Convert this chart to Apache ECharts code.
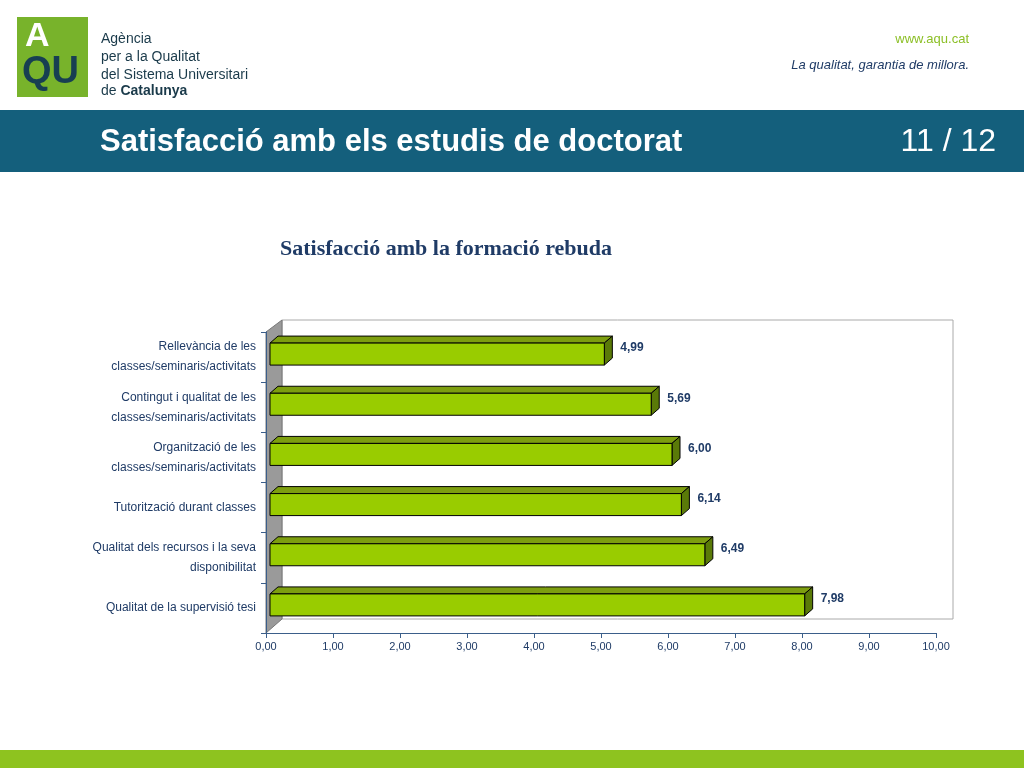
<!DOCTYPE html>
<html><head><meta charset="utf-8">
<script src="https://cdn.jsdelivr.net/npm/echarts@6/dist/echarts.min.js"></script>
<style>html,body{margin:0;padding:0;background:#fff}#c{width:1024px;height:768px}</style>
</head><body><div id="c"></div>
<script>
const categories = ["Rellevància de les\nclasses/seminaris/activitats","Contingut i qualitat de les\nclasses/seminaris/activitats","Organització de les\nclasses/seminaris/activitats","Tutorització durant classes","Qualitat dels recursos i la seva\ndisponibilitat","Qualitat de la supervisió tesi"];
const values = [4.99,5.69,6.00,6.14,6.49,7.98];
const fmt = v => v.toFixed(2).replace('.', ',');
const chart = echarts.init(document.getElementById('c'));
const DX=8, DY=7;
chart.setOption({
  animation:false,
  grid:{left:266,top:332,right:88,bottom:135},
  xAxis:{type:'value',min:0,max:10,interval:1,
    axisLabel:{formatter:v=>fmt(v),fontSize:11,color:'#1f3b66',fontFamily:'Arial'},
    axisLine:{show:true,lineStyle:{color:'#3b5e8a'}},axisTick:{show:true,lineStyle:{color:'#3b5e8a'}},splitLine:{show:false}},
  yAxis:{type:'category',inverse:true,data:categories,
    axisLabel:{fontSize:12,color:'#1f3b66',fontFamily:'Arial',lineHeight:20,margin:10},
    axisLine:{show:true,lineStyle:{color:'#3b5e8a'}},axisTick:{show:true,lineStyle:{color:'#3b5e8a'}}},
  graphic:[
    {type:'rect',shape:{x:0,y:110,width:1024,height:62},style:{fill:'#145f7c'}},
    {type:'text',left:100,top:127,style:{text:'Satisfacció amb els estudis de doctorat',fill:'#fff',font:'bold 31px Arial'}},
    {type:'text',right:28,top:126,style:{text:'11 / 12',fill:'#fff',font:'32px Arial'}},
    {type:'rect',shape:{x:17,y:17,width:71,height:80},style:{fill:'#78b32b'}},
    {type:'text',x:25,y:20,style:{text:'A',fill:'#fff',font:'bold 34px Arial'}},
    {type:'text',x:22,y:54,style:{text:'QU',fill:'#173f52',font:'bold 38px Arial'}},
    {type:'text',x:101,y:30,style:{text:'Agència\nper a la Qualitat\ndel Sistema Universitari',fill:'#1a3a4a',font:'14px Arial',lineHeight:18}},
    {type:'text',x:101,y:84,style:{rich:{a:{font:'14px Arial',fill:'#1a3a4a'},b:{font:'bold 14px Arial',fill:'#1a3a4a'}},text:'{a|de }{b|Catalunya}'}},
    {type:'text',right:55,top:33,style:{text:'www.aqu.cat',fill:'#8cbf26',font:'13px Arial'}},
    {type:'text',right:55,top:59,style:{text:'La qualitat, garantia de millora.',fill:'#1f3b66',font:'italic 13px Arial'}},
    {type:'text',left:280,top:238,style:{text:'Satisfacció amb la formació rebuda',fill:'#1f3b66',font:'bold 22px "Liberation Serif", serif'}},
    {type:'rect',shape:{x:0,y:750,width:1024,height:18},style:{fill:'#8ec31f'}},
    {type:'polygon',shape:{points:[[282,320],[953,320],[953,619],[282,619]]},style:{fill:'#fff',stroke:'#aaa',lineWidth:1},z:-1},
    {type:'polygon',shape:{points:[[266,332],[282,320],[282,619],[266,633]]},style:{fill:'#9a9a9a',stroke:'#777',lineWidth:1},z:-1}
  ],
  series:[{type:'custom',
    data:values.map((v,i)=>[v,i]),
    renderItem:(params,api)=>{
      const v=api.value(0), i=api.value(1);
      const p0=api.coord([0,i]), p1=api.coord([v,i]);
      const h=22, x0=p0[0]+4, x1=p1[0]+4, y=p0[1]-h/2-3;
      return {type:'group',children:[
        {type:'polygon',shape:{points:[[x0,y],[x0+DX,y-DY],[x1+DX,y-DY],[x1,y]]},style:{fill:'#7d9e0f',stroke:'#000',lineWidth:1}},
        {type:'polygon',shape:{points:[[x1,y],[x1+DX,y-DY],[x1+DX,y+h-DY],[x1,y+h]]},style:{fill:'#5a7a08',stroke:'#000',lineWidth:1}},
        {type:'rect',shape:{x:x0,y:y,width:x1-x0,height:h},style:{fill:'#99cc00',stroke:'#000',lineWidth:1}},
        {type:'text',x:x1+DX+8,y:y-1,style:{text:fmt(v),fill:'#1f3b66',font:'bold 12px Arial'}}
      ]};
    }}]
});
</script></body></html>
